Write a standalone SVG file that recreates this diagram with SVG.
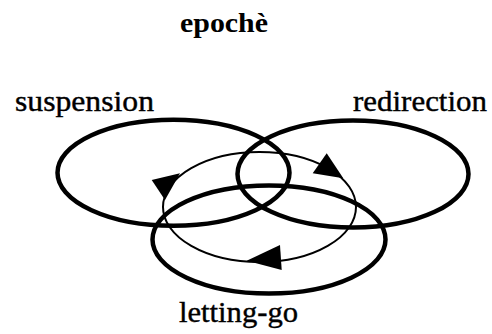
<svg xmlns="http://www.w3.org/2000/svg" width="492" height="334" viewBox="0 0 492 334">
<style>
.thick{fill:none;stroke:#000;stroke-width:4.5}
.thin{fill:none;stroke:#000;stroke-width:2}
.head{fill:#000;stroke:none}
.lbl{font-family:'Liberation Serif', 'Times New Roman', serif;font-size:29px;fill:#000;stroke:#000;stroke-width:0.4}
.title{font-family:'Liberation Serif', 'Times New Roman', serif;font-size:27.5px;font-weight:bold;fill:#000}
</style>
<rect width="492" height="334" fill="#fff"/>
<g id="title"><text class="title" x="180" y="31.5" textLength="88" lengthAdjust="spacingAndGlyphs">epochè</text></g>
<g id="suspension">
<ellipse class="thick" cx="173.5" cy="172.8" rx="116" ry="53"/>
<text class="lbl" x="15" y="110.5" textLength="139" lengthAdjust="spacingAndGlyphs">suspension</text>
</g>
<g id="redirection">
<ellipse class="thick" cx="353" cy="174" rx="115.5" ry="53.5"/>
<text class="lbl" x="353" y="110.5" textLength="134" lengthAdjust="spacingAndGlyphs">redirection</text>
</g>
<g id="letting-go">
<ellipse class="thick" cx="269" cy="239.5" rx="116.5" ry="54"/>
<text class="lbl" x="179" y="321.5" textLength="119" lengthAdjust="spacingAndGlyphs">letting-go</text>
</g>
<g id="connectors">
<ellipse class="thin" cx="259.5" cy="207" rx="96.5" ry="55"/>
<polygon class="head" points="151.7,180 180,173.3 165,200"/>
<polygon class="head" points="312.7,173.3 326.7,153.3 343.3,178.3"/>
<polygon class="head" points="246.7,260.7 280,245 281.7,270"/>
</g>
</svg>
